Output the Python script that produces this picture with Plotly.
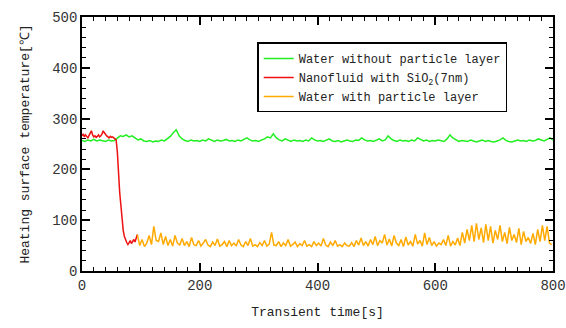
import plotly.graph_objects as go

# ---- data ----
t_green = list(range(0, 805, 5))
green = [257,255,258,256,259,256,258,257,255,258,256,257,
         262,266,265,268,264,266,262,258,260,
         256,255,257,254,256,255,258,256,260,265,
         272,278,266,260,257,255,258,256,257,255,
         258,256,260,257,255,258,256,257,259,256,
         257,255,258,256,259,262,258,256,257,255,
         258,260,264,262,270,262,258,256,260,257,
         255,258,256,257,255,258,256,262,258,256,
         257,255,258,260,256,255,257,254,256,258,
         256,255,258,257,262,258,256,257,255,258,
         260,256,258,266,260,257,255,258,256,257,
         255,258,256,262,259,256,258,255,257,256,
         258,256,255,260,268,262,258,255,257,256,
         255,258,256,254,256,258,255,257,255,254,
         256,258,262,257,255,254,256,258,256,257,
         255,258,256,257,260,258,256,259,262,258]

t_red = list(range(0, 96, 2))
red = [266,270,264,268,265,262,267,272,276,268,264,
       266,263,265,268,264,266,270,276,272,268,
       266,264,262,265,263,264,262,260,258,
       235,190,155,130,95,80,68,60,56,52,55,
       60,54,58,62,57,66,72]

t_orange = list(range(94, 800, 4))
orange = [72,50,62,48,55,70,52,88,60,58,
          75,52,68,50,62,49,70,55,51,64,
          50,58,48,66,52,50,60,49,55,62,
          51,48,57,50,63,49,52,58,48,60,
          50,55,49,62,51,48,58,50,64,49,
          52,48,56,50,60,49,53,76,51,50,
          58,48,55,50,62,49,52,57,48,54,
          50,60,49,52,48,58,50,55,49,64,
          51,48,57,50,60,49,52,48,55,50,
          49,56,48,60,51,65,50,58,49,62,
          52,68,50,60,55,72,51,63,49,70,
          55,50,62,48,67,51,58,49,72,53,
          60,49,75,52,66,50,58,49,55,52,
          62,50,70,49,58,51,65,50,76,55,
          82,60,90,58,94,62,85,56,92,60,
          88,55,80,62,90,58,76,54,86,60,
          72,56,84,52,78,58,66,54,74,52,
          82,58,90,60,88,55,52]

names = ["Water without particle layer",
         "Nanofluid with SiO<sub>2</sub>(7nm)",
         "Water with particle layer"]
colors = ["#22ee22", "#ee1111", "#ffaa00"]

FONT = "Liberation Mono"

fig = go.Figure()
fig.add_trace(go.Scatter(x=t_green, y=green, mode="lines", name=names[0],
                         line=dict(color=colors[0], width=1.5)))
fig.add_trace(go.Scatter(x=t_red, y=red, mode="lines", name=names[1],
                         line=dict(color=colors[1], width=1.5)))
fig.add_trace(go.Scatter(x=t_orange, y=orange, mode="lines", name=names[2],
                         line=dict(color=colors[2], width=1.5)))

axis_common = dict(showgrid=False, zeroline=False, showline=True, linecolor="black",
                   linewidth=1.5, mirror="allticks", ticks="inside", ticklen=8,
                   tickwidth=1.5, tickcolor="black", automargin=False,
                   tickfont=dict(family=FONT, size=14, color="#333"))

minor = dict(dtick=20, ticks="inside", ticklen=4, tickcolor="black", tickwidth=1.2)

fig.update_xaxes(range=[0, 800], dtick=200, tick0=0, minor=minor,
                 title=dict(text="Transient time[s]", font=dict(family=FONT, size=13, color="#222"),
                            standoff=14),
                 **axis_common)
fig.update_yaxes(range=[0, 500], dtick=100, tick0=0, minor=minor,
                 title=dict(text="Heating surface temperature[℃]",
                            font=dict(family=FONT, size=13, color="#222"), standoff=20),
                 **axis_common)

fig.update_layout(
    width=566, height=328,
    margin=dict(l=82, r=13, t=17, b=57),
    plot_bgcolor="white", paper_bgcolor="white",
    showlegend=True,
    legend=dict(x=0.372, y=0.90, xanchor="left", yanchor="top",
                bordercolor="black", borderwidth=1.5, bgcolor="white",
                font=dict(family=FONT, size=12, color="#222"),
                tracegroupgap=0, itemwidth=30),
)

fig.write_html("out.html")
